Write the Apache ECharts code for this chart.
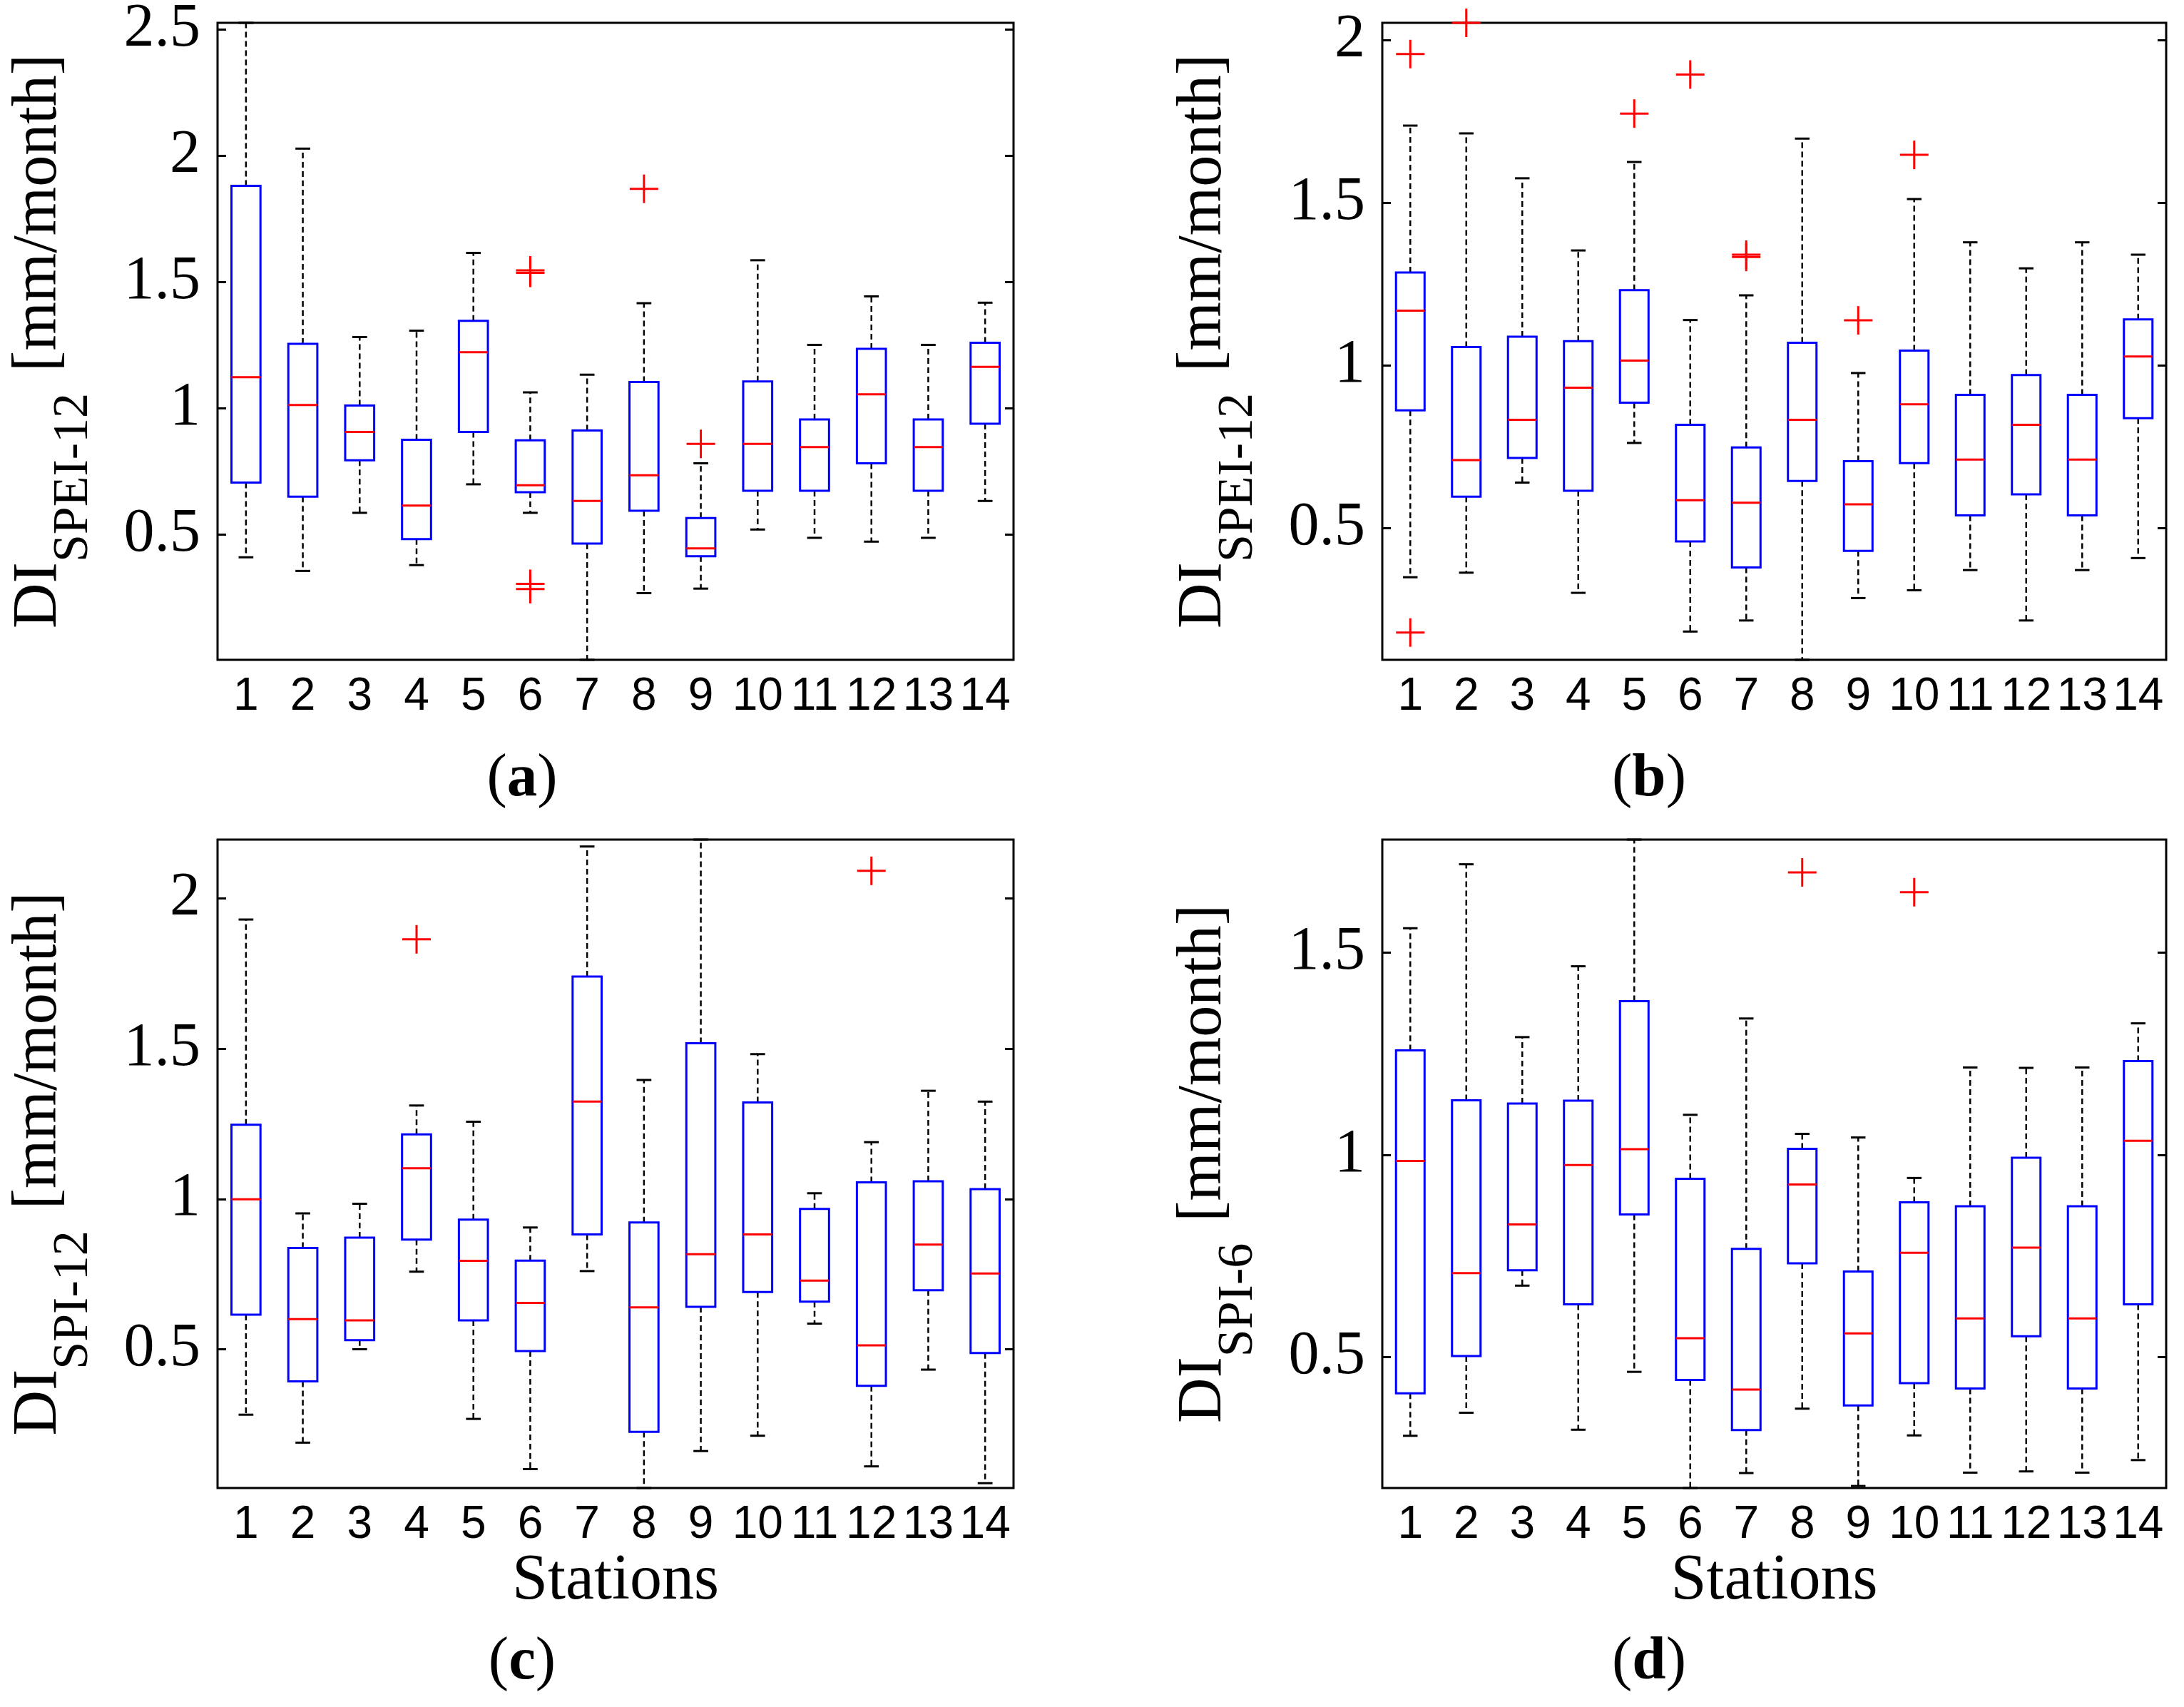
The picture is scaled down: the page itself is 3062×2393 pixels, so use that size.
<!DOCTYPE html>
<html>
<head>
<meta charset="utf-8">
<title>DI boxplots by station</title>
<script src="https://cdn.jsdelivr.net/npm/echarts@6/dist/echarts.min.js"></script>
<style>
    html, body { margin: 0; padding: 0; background: #fff; }
    #chart { width: 3062px; height: 2393px; }
</style>
</head>
<body>
<div id="chart"></div>
<script>
// stations on the x axis
const stations = ['1', '2', '3', '4', '5', '6', '7', '8', '9', '10', '11', '12', '13', '14'];

// (a) DI SPEI-12, box statistics per station
const aLow  = [0.411, 0.357, 0.587, 0.380, 0.700, 0.587, 0.005, 0.269, 0.287, 0.521, 0.488, 0.473, 0.488, 0.634];
const aQ1   = [0.707, 0.651, 0.795, 0.483, 0.907, 0.669, 0.465, 0.595, 0.415, 0.674, 0.674, 0.783, 0.674, 0.940];
const aMed  = [1.124, 1.014, 0.907, 0.616, 1.223, 0.696, 0.634, 0.736, 0.446, 0.860, 0.847, 1.056, 0.847, 1.165];
const aQ3   = [1.882, 1.256, 1.012, 0.876, 1.347, 0.874, 0.913, 1.105, 0.566, 1.107, 0.957, 1.236, 0.957, 1.260];
const aHigh = [2.527, 2.029, 1.283, 1.308, 1.616, 1.064, 1.134, 1.417, 0.783, 1.587, 1.252, 1.444, 1.252, 1.419];
const aOutliers = [[6, 1.537], [6, 1.547], [6, 0.306], [6, 0.285], [8, 1.870], [9, 0.860]];
const aTicks = [0.5, 1, 1.5, 2, 2.5];

// (b) DI SPEI-12
const bLow  = [0.348, 0.362, 0.639, 0.300, 0.761, 0.181, 0.215, 0.094, 0.284, 0.308, 0.370, 0.215, 0.370, 0.407];
const bQ1   = [0.861, 0.596, 0.715, 0.614, 0.885, 0.458, 0.378, 0.644, 0.429, 0.699, 0.538, 0.603, 0.538, 0.837];
const bMed  = [1.168, 0.708, 0.832, 0.931, 1.014, 0.585, 0.577, 0.832, 0.572, 0.880, 0.710, 0.817, 0.710, 1.027];
const bQ3   = [1.285, 1.056, 1.088, 1.074, 1.231, 0.817, 0.747, 1.069, 0.705, 1.045, 0.909, 0.970, 0.909, 1.141];
const bHigh = [1.737, 1.713, 1.575, 1.353, 1.625, 1.139, 1.215, 1.697, 0.976, 1.511, 1.378, 1.298, 1.378, 1.340];
const bOutliers = [[1, 1.957], [1, 0.178], [2, 2.053], [5, 1.774], [6, 1.894], [7, 1.333], [7, 1.340], [9, 1.138], [10, 1.647]];
const bTicks = [0.5, 1, 1.5, 2];

// (c) DI SPI-12
const cLow  = [0.282, 0.189, 0.500, 0.758, 0.268, 0.101, 0.760, 0.038, 0.161, 0.212, 0.585, 0.110, 0.432, 0.054];
const cQ1   = [0.615, 0.393, 0.530, 0.865, 0.596, 0.494, 0.882, 0.225, 0.641, 0.690, 0.658, 0.378, 0.696, 0.487];
const cMed  = [0.999, 0.600, 0.596, 1.102, 0.794, 0.654, 1.324, 0.639, 0.816, 0.882, 0.728, 0.513, 0.848, 0.752];
const cQ3   = [1.247, 0.837, 0.871, 1.215, 0.931, 0.795, 1.740, 0.922, 1.518, 1.321, 0.967, 1.055, 1.059, 1.033];
const cHigh = [1.930, 0.952, 0.984, 1.311, 1.257, 0.905, 2.173, 1.396, 2.196, 1.482, 1.019, 1.189, 1.360, 1.324];
const cOutliers = [[4, 1.864], [12, 2.092]];
const cTicks = [0.5, 1, 1.5, 2];

// (d) DI SPI-6
const dLow  = [0.306, 0.363, 0.677, 0.321, 0.464, 0.177, 0.214, 0.373, 0.182, 0.307, 0.215, 0.218, 0.215, 0.246];
const dQ1   = [0.411, 0.503, 0.715, 0.631, 0.853, 0.444, 0.320, 0.732, 0.381, 0.436, 0.423, 0.552, 0.423, 0.631];
const dMed  = [0.985, 0.708, 0.828, 0.975, 1.014, 0.547, 0.420, 0.927, 0.559, 0.758, 0.596, 0.771, 0.596, 1.035];
const dQ3   = [1.258, 1.135, 1.127, 1.134, 1.380, 0.941, 0.768, 1.015, 0.712, 0.883, 0.873, 0.993, 0.873, 1.232];
const dHigh = [1.560, 1.718, 1.291, 1.466, 1.779, 1.099, 1.337, 1.052, 1.043, 0.943, 1.216, 1.215, 1.216, 1.325];
const dOutliers = [[8, 1.698], [10, 1.649]];
const dTicks = [0.5, 1, 1.5];

const serif = 'Liberation Serif';
const sans = 'Liberation Sans';

const panels = [
    { tag: 'a', sub: 'SPEI-12', min: 0.005, max: 2.527, ticks: aTicks,
      low: aLow, q1: aQ1, med: aMed, q3: aQ3, high: aHigh, outliers: aOutliers,
      rect: { left: 305, top: 32, width: 1116, height: 893 }, tagPos: [732, 1093], xName: '' },
    { tag: 'b', sub: 'SPEI-12', min: 0.094, max: 2.053, ticks: bTicks,
      low: bLow, q1: bQ1, med: bMed, q3: bQ3, high: bHigh, outliers: bOutliers,
      rect: { left: 1938, top: 32, width: 1099, height: 893 }, tagPos: [2312, 1093], xName: '' },
    { tag: 'c', sub: 'SPI-12', min: 0.038, max: 2.196, ticks: cTicks,
      low: cLow, q1: cQ1, med: cMed, q3: cQ3, high: cHigh, outliers: cOutliers,
      rect: { left: 305, top: 1177, width: 1116, height: 909 }, tagPos: [732, 2331], xName: 'Stations' },
    { tag: 'd', sub: 'SPI-6', min: 0.177, max: 1.779, ticks: dTicks,
      low: dLow, q1: dQ1, med: dMed, q3: dQ3, high: dHigh, outliers: dOutliers,
      rect: { left: 1938, top: 1177, width: 1099, height: 909 }, tagPos: [2312, 2331], xName: 'Stations' }
];

// MATLAB style box: blue box, red median, dashed black whiskers with solid caps
function renderBox(params, api) {
    const k = api.value(0);
    const pLow = api.coord([k, api.value(1)]);
    const pQ1 = api.coord([k, api.value(2)]);
    const pMed = api.coord([k, api.value(3)]);
    const pQ3 = api.coord([k, api.value(4)]);
    const pHigh = api.coord([k, api.value(5)]);
    const band = api.size([1, 0])[0];
    const half = band * 0.255;
    const cap = band * 0.13;
    const cx = pMed[0];
    const dash = () => ({ stroke: '#000', lineWidth: 2.5, lineDash: [8, 5], fill: null });
    const solid = () => ({ stroke: '#000', lineWidth: 3, fill: null });
    return {
        type: 'group',
        children: [
            { type: 'line', shape: { x1: cx, y1: pQ3[1], x2: cx, y2: pHigh[1] }, style: dash() },
            { type: 'line', shape: { x1: cx, y1: pQ1[1], x2: cx, y2: pLow[1] }, style: dash() },
            { type: 'line', shape: { x1: cx - cap, y1: pHigh[1], x2: cx + cap, y2: pHigh[1] }, style: solid() },
            { type: 'line', shape: { x1: cx - cap, y1: pLow[1], x2: cx + cap, y2: pLow[1] }, style: solid() },
            { type: 'rect', shape: { x: cx - half, y: pQ3[1], width: half * 2, height: pQ1[1] - pQ3[1] },
              style: { fill: 'none', stroke: '#0000ff', lineWidth: 3 } },
            { type: 'line', shape: { x1: cx - half, y1: pMed[1], x2: cx + half, y2: pMed[1] },
              style: { stroke: '#ff0000', lineWidth: 3 } }
        ]
    };
}

// red "+" outlier marks
function renderPlus(params, api) {
    const p = api.coord([api.value(0), api.value(1)]);
    const r = 20;
    return {
        type: 'group',
        children: [
            { type: 'line', shape: { x1: p[0] - r, y1: p[1], x2: p[0] + r, y2: p[1] }, style: { stroke: '#ff0000', lineWidth: 3 } },
            { type: 'line', shape: { x1: p[0], y1: p[1] - r, x2: p[0], y2: p[1] + r }, style: { stroke: '#ff0000', lineWidth: 3 } }
        ]
    };
}

const tickStyle = { show: true, inside: true, length: 12, lineStyle: { color: '#000', width: 3 } };

const grids = panels.map(p => Object.assign({
    show: true, borderColor: '#000', borderWidth: 3, backgroundColor: '#fff',
    containLabel: false, outerBoundsMode: 'none'
}, p.rect));

const xAxes = panels.map((p, i) => ({
    type: 'category',
    gridIndex: i,
    data: stations,
    axisLine: { show: false },
    axisTick: { show: false },
    splitLine: { show: false },
    axisLabel: { interval: 0, margin: 20, color: '#000', fontFamily: sans, fontSize: 64 },
    name: p.xName,
    nameLocation: 'middle',
    nameGap: 86,
    nameMoveOverlap: false,
    nameTextStyle: { color: '#000', fontFamily: serif, fontSize: 90 }
}));

const leftAxes = panels.map((p, i) => ({
    type: 'value',
    gridIndex: i,
    min: p.min,
    max: p.max,
    axisLine: { show: false },
    axisTick: Object.assign({ customValues: p.ticks }, tickStyle),
    splitLine: { show: false },
    axisLabel: {
        customValues: p.ticks, margin: 24, color: '#000', fontFamily: serif, fontSize: 86,
        formatter: v => String(v)
    },
    name: '{di|DI}{sub|' + p.sub + '}{unit|[mm/month]}',
    nameLocation: 'middle',
    nameRotate: 90,
    nameGap: 166,
    nameMoveOverlap: false,
    nameTextStyle: {
        rich: {
            di: { fontFamily: serif, fontSize: 88, color: '#000' },
            sub: { fontFamily: serif, fontSize: 70, color: '#000', padding: [98, 0, 0, 0] },
            unit: { fontFamily: serif, fontSize: 88, color: '#000', padding: [0, 0, 0, 30] }
        }
    }
}));

const rightAxes = panels.map((p, i) => ({
    type: 'value',
    gridIndex: i,
    position: 'right',
    min: p.min,
    max: p.max,
    axisLine: { show: false },
    axisTick: Object.assign({ customValues: p.ticks }, tickStyle),
    splitLine: { show: false },
    axisLabel: { show: false }
}));

const series = [];
panels.forEach((p, i) => {
    series.push({
        type: 'custom',
        xAxisIndex: i,
        yAxisIndex: i,
        renderItem: renderBox,
        encode: { x: 0, y: [1, 2, 3, 4, 5] },
        data: stations.map((s, k) => [k, p.low[k], p.q1[k], p.med[k], p.q3[k], p.high[k]]),
        z: 2
    });
    series.push({
        type: 'custom',
        xAxisIndex: i,
        yAxisIndex: i,
        renderItem: renderPlus,
        encode: { x: 0, y: 1 },
        data: p.outliers.map(o => [o[0] - 1, o[1]]),
        z: 3
    });
});

const tags = panels.map(p => ({
    type: 'text',
    x: p.tagPos[0],
    y: p.tagPos[1],
    style: {
        text: '{p|(}{b|' + p.tag + '}{p|)}',
        align: 'center',
        verticalAlign: 'middle',
        rich: {
            p: { fontFamily: serif, fontSize: 85, fill: '#000' },
            b: { fontFamily: serif, fontSize: 85, fontWeight: 'bold', fill: '#000' }
        }
    }
}));

const chart = echarts.init(document.getElementById('chart'));
chart.setOption({
    backgroundColor: '#fff',
    animation: false,
    grid: grids,
    xAxis: xAxes,
    yAxis: leftAxes.concat(rightAxes),
    series: series,
    graphic: tags
});
</script>
</body>
</html>
